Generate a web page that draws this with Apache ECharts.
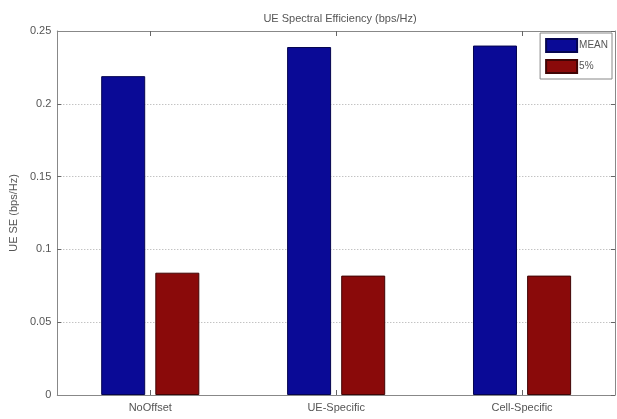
<!DOCTYPE html>
<html>
<head>
<meta charset="utf-8">
<script src="https://cdn.jsdelivr.net/npm/echarts@6/dist/echarts.min.js"></script>
<style>html,body{margin:0;padding:0;background:#fff;}#c{width:617px;height:419px;}</style>
</head>
<body>
<div id="c"></div>
<script>
const categories = ['NoOffset', 'UE-Specific', 'Cell-Specific'];
const meanValues = [0.219, 0.239, 0.240];
const p5Values = [0.084, 0.082, 0.082];
const yTicks = [0, 0.05, 0.1, 0.15, 0.2, 0.25];

const chart = echarts.init(document.getElementById('c'), null, {renderer: 'canvas'});
const txt = '#555';
const axisLine = {show: true, onZero: false, lineStyle: {color: '#888', width: 1}};
chart.setOption({
  animation: false,
  backgroundColor: '#fff',
  title: {
    text: 'UE Spectral Efficiency (bps/Hz)',
    left: 335, top: 8, textAlign: 'center',
    textStyle: {fontFamily: 'Liberation Sans', fontSize: 11, fontWeight: 'normal', color: txt}
  },
  legend: {
    orient: 'vertical', right: 5, top: 33,
    itemWidth: 31, itemHeight: 13, itemGap: 6,
    padding: [5, 4, 5, 5],
    borderColor: '#888', borderWidth: 1, backgroundColor: '#fff',
    textStyle: {fontFamily: 'Liberation Sans', fontSize: 10, color: txt, padding: [0, 0, 0, -3]},
    data: [{name: 'MEAN', icon: 'rect'}, {name: '5%', icon: 'rect'}]
  },
  grid: {left: 55, right: 2, top: 31, bottom: 24, containLabel: false},
  xAxis: [{
    type: 'category', data: categories, position: 'bottom', z: 10,
    axisLine: axisLine,
    axisTick: {show: true, inside: true, alignWithLabel: true, length: 5, lineStyle: {color: '#666'}},
    axisLabel: {fontFamily: 'Liberation Sans', fontSize: 11, color: txt, margin: 7}
  }, {
    type: 'category', data: categories, position: 'top', z: 10,
    axisLine: axisLine,
    axisTick: {show: true, inside: true, alignWithLabel: true, length: 5, lineStyle: {color: '#666'}},
    axisLabel: {show: false}
  }],
  yAxis: [{
    type: 'value', min: 0, max: 0.25, interval: 0.05,
    name: 'UE SE (bps/Hz)', nameLocation: 'middle', nameGap: 33, nameRotate: 90,
    nameTextStyle: {fontFamily: 'Liberation Sans', fontSize: 11, color: txt},
    axisLine: axisLine,
    axisTick: {show: true, inside: true, length: 4, lineStyle: {color: '#666'}},
    axisLabel: {fontFamily: 'Liberation Sans', fontSize: 11, color: txt, margin: 6,
      formatter: v => String(+v.toFixed(2))},
    splitLine: {show: true, lineStyle: {color: '#aaa', type: [1, 2], width: 1}}
  }, {
    type: 'value', min: 0, max: 0.25, interval: 0.05, position: 'right', z: 10,
    axisLine: axisLine,
    axisTick: {show: true, inside: true, length: 4, lineStyle: {color: '#666'}},
    axisLabel: {show: false}, splitLine: {show: false}
  }],
  series: [{
    name: 'MEAN', type: 'bar', data: meanValues, barWidth: 44, barGap: '23%',
    itemStyle: {color: '#0a0a96', borderColor: '#050550', borderWidth: 1}
  }, {
    name: '5%', type: 'bar', data: p5Values, barWidth: 44,
    itemStyle: {color: '#8a0a0a', borderColor: '#400505', borderWidth: 1}
  }]
});
</script>
</body>
</html>
